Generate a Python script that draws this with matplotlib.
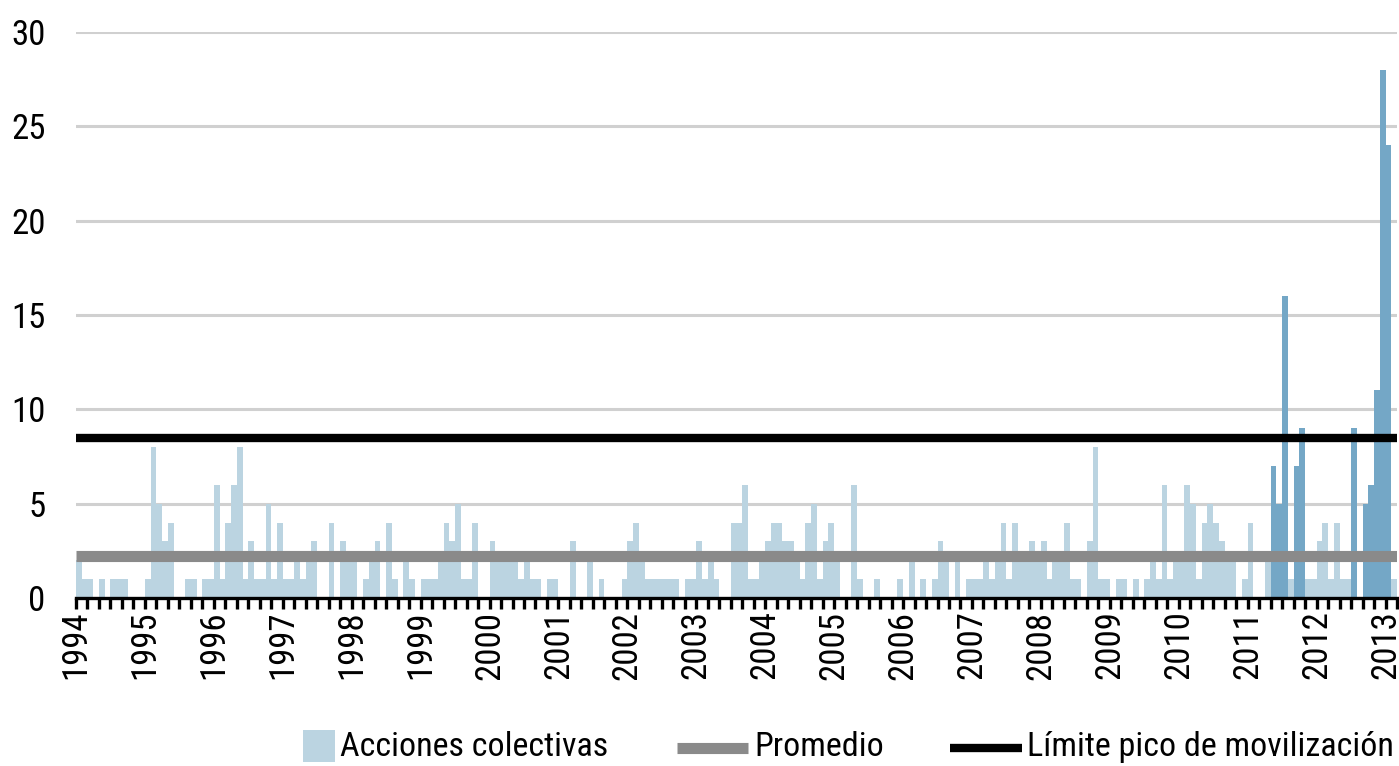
import numpy as np
import pandas as pd
import matplotlib
matplotlib.use("Agg")
import matplotlib.pyplot as plt
from matplotlib import font_manager
from matplotlib.patches import Rectangle
from matplotlib.lines import Line2D

# Acciones colectivas por mes (enero 1994 - febrero 2013)
acciones_1994 = [2, 1, 1, 0, 1, 0, 1, 1, 1, 0, 0, 0]
acciones_1995 = [1, 8, 5, 3, 4, 0, 0, 1, 1, 0, 1, 1]
acciones_1996 = [6, 1, 4, 6, 8, 1, 3, 1, 1, 5, 1, 4]
acciones_1997 = [1, 1, 2, 1, 2, 3, 0, 0, 4, 0, 3, 2]
acciones_1998 = [2, 0, 1, 2, 3, 0, 4, 1, 0, 2, 1, 0]
acciones_1999 = [1, 1, 1, 2, 4, 3, 5, 1, 1, 4, 0, 0]
acciones_2000 = [3, 2, 2, 2, 2, 1, 2, 1, 1, 0, 1, 1]
acciones_2001 = [0, 0, 3, 0, 0, 2, 0, 1, 0, 0, 0, 1]
acciones_2002 = [3, 4, 2, 1, 1, 1, 1, 1, 1, 0, 1, 1]
acciones_2003 = [3, 1, 2, 1, 0, 0, 4, 4, 6, 1, 1, 2]
acciones_2004 = [3, 4, 4, 3, 3, 2, 1, 4, 5, 1, 3, 4]
acciones_2005 = [2, 0, 0, 6, 1, 0, 0, 1, 0, 0, 0, 1]
acciones_2006 = [0, 2, 0, 1, 0, 1, 3, 2, 0, 2, 0, 1]
acciones_2007 = [1, 1, 2, 1, 2, 4, 1, 4, 2, 2, 3, 2]
acciones_2008 = [3, 1, 2, 2, 4, 1, 1, 0, 3, 8, 1, 1]
acciones_2009 = [0, 1, 1, 0, 1, 0, 1, 2, 1, 6, 1, 2]
acciones_2010 = [2, 6, 5, 1, 4, 5, 4, 3, 2, 2, 0, 1]
acciones_2011 = [4, 0, 0, 2, 7, 5, 16, 1, 7, 9, 1, 1]
acciones_2012 = [3, 4, 1, 4, 1, 1, 9, 0, 5, 6, 11, 28]
acciones_2013 = [24, 1]

# meses del periodo de movilizacion (barras oscuras)
meses_pico = ["2011-05", "2011-06", "2011-07", "2011-09", "2011-10",
              "2012-07", "2012-09", "2012-10", "2012-11", "2012-12", "2013-01"]

promedio = 2.2
limite_pico = 8.5

anios = list(range(1994, 2014))
y_ticks = [0, 5, 10, 15, 20, 25, 30]
etiquetas = ["Acciones colectivas", "Promedio", "Límite pico de movilización"]

acciones = (acciones_1994 + acciones_1995 + acciones_1996 + acciones_1997 +
            acciones_1998 + acciones_1999 + acciones_2000 + acciones_2001 +
            acciones_2002 + acciones_2003 + acciones_2004 + acciones_2005 +
            acciones_2006 + acciones_2007 + acciones_2008 + acciones_2009 +
            acciones_2010 + acciones_2011 + acciones_2012 + acciones_2013)

df = pd.DataFrame({
    "mes": pd.date_range("1994-01-01", periods=len(acciones), freq="MS"),
    "acciones": acciones,
})
df["clave"] = df["mes"].dt.strftime("%Y-%m")
df["pico"] = df["clave"].isin(meses_pico)

# fuente estrecha parecida a la original
disponibles = {f.name for f in font_manager.fontManager.ttflist}
familia = [f for f in ["Liberation Sans Narrow", "DejaVu Sans Condensed", "Roboto Condensed"]
           if f in disponibles] + ["DejaVu Sans"]
plt.rcParams["font.family"] = familia

claro = "#BBD4E1"
oscuro = "#74A7C6"
gris = "#8A8A8A"

W, H = 1399, 766
fig = plt.figure(figsize=(W / 100, H / 100), dpi=100)
ax = fig.add_axes([76 / W, 1 - 598 / H, 1321 / W, 566 / H])

x = np.arange(len(df))
colores = np.where(df["pico"], oscuro, claro)
ax.bar(x + 0.5, df["acciones"], width=1.0, color=colores, edgecolor="none", zorder=2)

ax.axhline(promedio, color=gris, lw=8, zorder=3, solid_capstyle="butt")
ax.axhline(limite_pico, color="black", lw=6, zorder=4, solid_capstyle="butt")

ax.set_xlim(0, len(df))
ax.set_ylim(0, 30)
ax.set_yticks(y_ticks)
ax.set_yticklabels([str(v) for v in y_ticks])
for v in y_ticks[1:]:
    ax.axhline(v, color="#D0D0D0", lw=2.2, zorder=1)

ax.set_xticks([12 * (a - 1994) for a in anios])
ax.set_xticklabels([str(a) for a in anios], rotation=90, va="top", ha="center")
ax.set_xticks(np.arange(0, len(df) + 1, 2), minor=True)

ax.tick_params(axis="x", which="both", direction="out", length=8, width=2.4,
               color="black", labelsize=25, pad=1)
ax.tick_params(axis="y", length=0, labelsize=25, pad=22)

for s in ["top", "right", "left"]:
    ax.spines[s].set_visible(False)
ax.spines["bottom"].set_linewidth(2.4)
ax.spines["bottom"].set_color("black")
ax.spines["bottom"].set_zorder(5)

# leyenda dibujada a mano en pixeles de la figura
def px(xp, yp):
    return xp / W, 1 - yp / H

fig.patches.append(Rectangle(px(303, 762), 32 / W, 32 / H, transform=fig.transFigure,
                             facecolor=claro, edgecolor="none"))
fig.lines.append(Line2D([677 / W, 748 / W], [1 - 748 / H] * 2, transform=fig.transFigure,
                        color=gris, lw=8, solid_capstyle="butt"))
fig.lines.append(Line2D([950 / W, 1022 / W], [1 - 748 / H] * 2, transform=fig.transFigure,
                        color="black", lw=6, solid_capstyle="butt"))
for xp, texto in zip([340, 754, 1027], etiquetas):
    fig.text(*px(xp, 747), texto, fontsize=24.5, ha="left", va="center")

fig.savefig("out.png", dpi=100)
